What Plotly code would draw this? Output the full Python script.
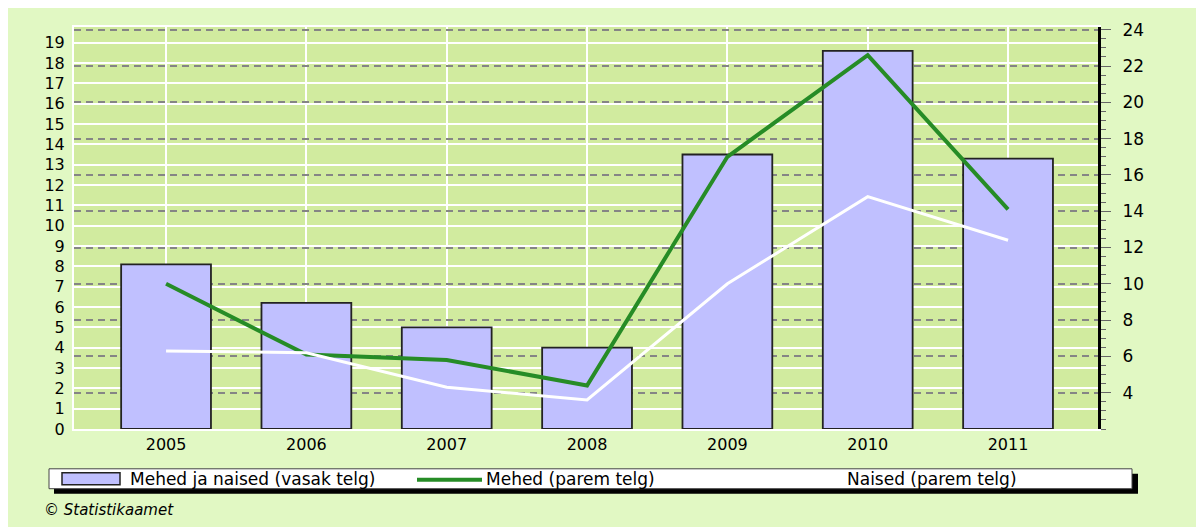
import plotly.graph_objects as go

# ---- data ----
years = ["2005", "2006", "2007", "2008", "2009", "2010", "2011"]
total = [8.1, 6.2, 5.0, 4.0, 13.5, 18.6, 13.3]      # Mehed ja naised (left axis)
men = [10.0, 6.1, 5.8, 4.4, 17.0, 22.6, 14.1]        # Mehed (right axis)
women = [6.3, 6.2, 4.3, 3.6, 10.0, 14.8, 12.4]       # Naised (right axis)
right_ticks = [4, 6, 8, 10, 12, 14, 16, 18, 20, 22, 24]

name_total = "Mehed ja naised (vasak telg)"
name_men = "Mehed (parem telg)"
name_women = "Naised (parem telg)"
source = "© Statistikaamet"

# ---- layout geometry (page has an 8px body margin) ----
OFF = 8
W, H = 1196, 519
ML, MR, MT, MB = 66, 106, 17, 98
PW, PH = W - ML - MR, H - MT - MB

def px(x):
    """screen x pixel -> paper coordinate"""
    return (x - OFF - ML) / PW

def py(y):
    """screen y pixel -> paper coordinate"""
    return (OFF + H - MB - y) / PH

FONT = "DejaVu Sans"
OUTER = "#E1F8C3"
PLOTBG = "#D1EB9F"
BARC = "#C0C0FF"
GREEN = "#268C26"

fig = go.Figure()
fig.add_trace(go.Bar(x=years, y=total, name=name_total, width=0.64,
                     marker=dict(color=BARC, line=dict(color="#222222", width=1.8)),
                     yaxis="y", showlegend=False, hoverinfo="skip"))
fig.add_trace(go.Scatter(x=years, y=men, name=name_men, mode="lines",
                         line=dict(color=GREEN, width=4), yaxis="y2",
                         showlegend=False, hoverinfo="skip"))
fig.add_trace(go.Scatter(x=years, y=women, name=name_women, mode="lines",
                         line=dict(color="white", width=3), yaxis="y2",
                         showlegend=False, hoverinfo="skip"))

shapes = []
# legend box: shadow, box
shapes.append(dict(type="rect", xref="paper", yref="paper", x0=px(54), x1=px(1138), y0=py(474), y1=py(494),
                   fillcolor="black", line=dict(width=0), layer="above"))
shapes.append(dict(type="rect", xref="paper", yref="paper", x0=px(49), x1=px(1132), y0=py(469), y1=py(489),
                   fillcolor="white", line=dict(color="#444444", width=1), layer="above"))
# legend symbols
shapes.append(dict(type="rect", xref="paper", yref="paper", x0=px(62), x1=px(120), y0=py(473), y1=py(485),
                   fillcolor=BARC, line=dict(color="#222222", width=1.5), layer="above"))
shapes.append(dict(type="line", xref="paper", yref="paper", x0=px(417), x1=px(482), y0=py(480), y1=py(480),
                   line=dict(color=GREEN, width=4), layer="above"))
shapes.append(dict(type="line", xref="paper", yref="paper", x0=px(779), x1=px(844), y0=py(480), y1=py(480),
                   line=dict(color="white", width=3), layer="above"))

annotations = []
for label, x0 in [(name_total, 128), (name_men, 484), (name_women, 845)]:
    annotations.append(dict(text=label, xref="paper", yref="paper", x=px(x0), y=py(479.5),
                            xanchor="left", yanchor="middle", showarrow=False,
                            font=dict(family=FONT, size=17, color="black")))
annotations.append(dict(text="<i>" + source + "</i>", xref="paper", yref="paper", x=px(42), y=py(510),
                        xanchor="left", yanchor="middle", showarrow=False,
                        font=dict(family=FONT, size=15, color="black")))

fig.update_layout(
    width=W, height=H, autosize=False,
    margin=dict(l=ML, r=MR, t=MT, b=MB, pad=0),
    paper_bgcolor=OUTER, plot_bgcolor=PLOTBG,
    font=dict(family=FONT, size=16, color="black"),
    showlegend=False, bargap=0.36,
    xaxis=dict(type="category", range=[-0.656, 6.641], showgrid=True, gridcolor="white", gridwidth=2,
               showline=True, linecolor="white", linewidth=2, mirror=True, ticks="",
               tickfont=dict(family=FONT, size=16, color="black"), fixedrange=True),
    yaxis=dict(range=[0, 19.77], tickmode="linear", tick0=0, dtick=1, showgrid=True,
               gridcolor="white", gridwidth=2, zeroline=False, showline=True, linecolor="white",
               linewidth=2, ticks="", ticklabelstandoff=4,
               tickfont=dict(family=FONT, size=16, color="black"), fixedrange=True),
    yaxis2=dict(overlaying="y", side="right", anchor="x", range=[2.0, 24.15],
                tickmode="array", tickvals=right_ticks, showgrid=True, gridcolor="#858585",
                gridwidth=1.5, griddash="7px,5px", zeroline=False, showline=True, linecolor="black",
                linewidth=3, ticks="outside", ticklen=10, tickcolor="#666666", tickwidth=1,
                ticklabelstandoff=8,
                minor=dict(dtick=0.5, tick0=0, ticks="outside", ticklen=5, tickcolor="#666666",
                           tickwidth=1, showgrid=False),
                tickfont=dict(family=FONT, size=17, color="black"), fixedrange=True),
    shapes=shapes, annotations=annotations,
)

fig.write_html("out.html")
